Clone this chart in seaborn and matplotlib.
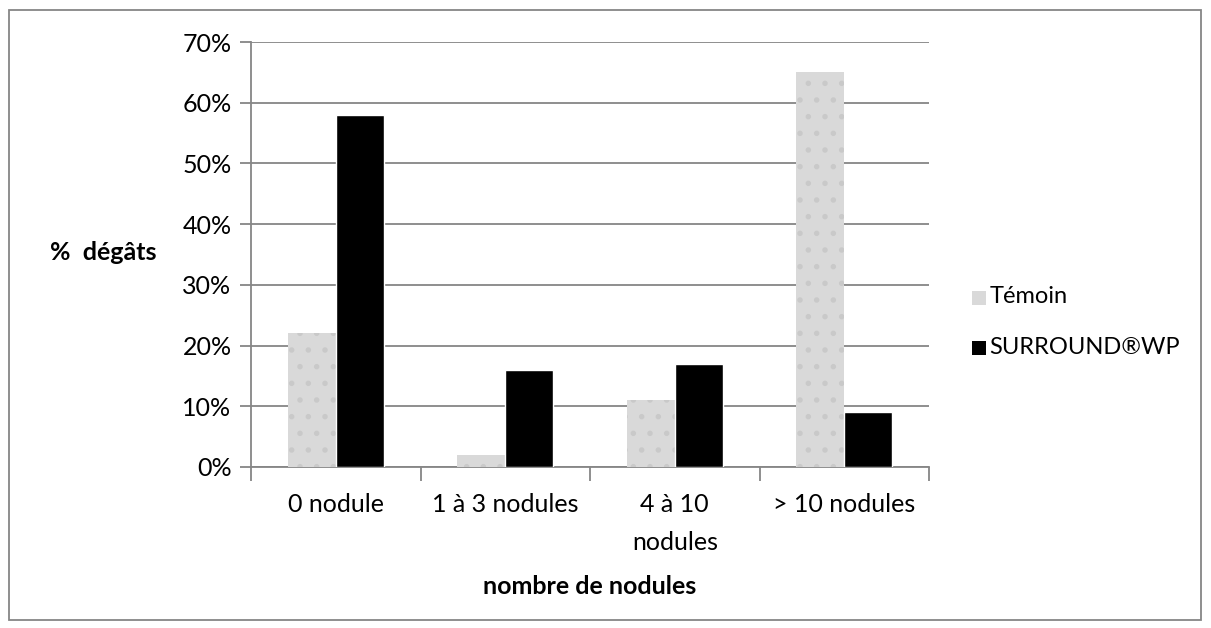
import pandas as pd
import numpy as np
import matplotlib.pyplot as plt
import seaborn as sns
from matplotlib.patches import Rectangle
from matplotlib.ticker import FixedLocator, PercentFormatter

# data
categories = ["0 nodule", "1 à 3 nodules", "4 à 10\nnodules", "> 10 nodules"]
temoin = [22, 2, 11, 65]
surround = [58, 16, 17, 9]
series_names = ["Témoin", "SURROUND®WP"]

df = pd.DataFrame({
    "cat": categories * 2,
    "val": temoin + surround,
    "serie": [series_names[0]] * 4 + [series_names[1]] * 4,
})

sns.set_style("white")
plt.rcParams['font.family'] = ['Lato', 'DejaVu Sans']
plt.rcParams['text.color'] = "black"
plt.rcParams['xtick.color'] = "black"
plt.rcParams['ytick.color'] = "black"
plt.rcParams['axes.labelcolor'] = "black"
plt.rcParams['hatch.linewidth'] = 1.5

fs = 18

fig = plt.figure(figsize=(12.11, 6.28), dpi=100)
ax = fig.add_axes([251 / 1211, 1 - 467 / 628, (929 - 251) / 1211, (467 - 42) / 628])

grid_col = "#868686"
light = "#d9d9d9"

sns.barplot(
    data=df, x="cat", y="val", hue="serie",
    palette=[light, "black"], width=0.566, gap=0,
    saturation=1, ax=ax, legend=False, zorder=3,
)

# dotted fill on the Témoin bars
for bar in ax.containers[0]:
    bar.set_hatch(".")
    bar.set_edgecolor("#c9c9c9")
    bar.set_linewidth(0)

ax.set_ylim(0, 70)
ax.set_xlim(-0.5, 3.5)
ax.set_yticks(np.arange(0, 71, 10))
ax.yaxis.set_major_formatter(PercentFormatter(decimals=0))
ax.yaxis.grid(True, color=grid_col, linewidth=1.3, zorder=0)
ax.set_axisbelow(True)

for s in ["top", "right"]:
    ax.spines[s].set_visible(False)
for s in ["left", "bottom"]:
    ax.spines[s].set_color(grid_col)
    ax.spines[s].set_linewidth(1.3)

ax.tick_params(axis="y", length=8, color=grid_col, width=1.3, labelsize=fs, pad=6, left=True)
ax.tick_params(axis="x", which="major", length=0, labelsize=fs, pad=19)
for lbl in ax.get_xticklabels():
    lbl.set_linespacing(1.75)
ax.xaxis.set_minor_locator(FixedLocator([-0.5, 0.5, 1.5, 2.5, 3.5]))
ax.tick_params(axis="x", which="minor", length=10, color=grid_col, width=1.3, bottom=True)

ax.set_xlabel("")
ax.set_ylabel("")
fig.text(590 / 1211, 1 - 586 / 628, "nombre de nodules", fontsize=fs, fontweight="bold",
         ha="center", va="center")
fig.text(103 / 1211, 1 - 252 / 628, "%  dégâts", fontsize=fs, fontweight="bold",
         ha="center", va="center")

# legend
leg_x = 972 / 1211
for i, (name, col) in enumerate(zip(series_names, [light, "black"])):
    yc = 1 - (297 + 50 * i) / 628
    fig.patches.append(Rectangle((leg_x, yc - 0.012), 0.0115, 0.022, transform=fig.transFigure,
                                 facecolor=col, edgecolor="none"))
    fig.text(leg_x + 0.0145, yc, name, fontsize=17, va="center", ha="left")

# outer border
fig.patches.append(Rectangle((9 / 1211, 1 - 620 / 628), 1192 / 1211, 610 / 628,
                             transform=fig.transFigure, fill=False,
                             edgecolor="#868686", linewidth=1.3))

fig.savefig("out.png", dpi=100)
